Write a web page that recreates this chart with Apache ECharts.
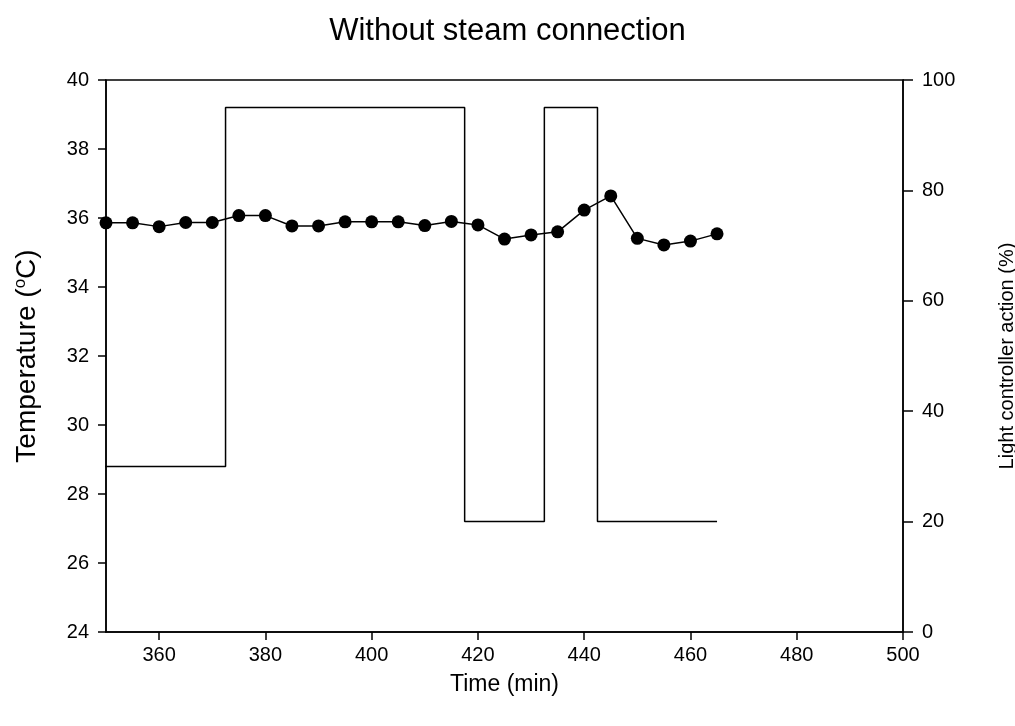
<!DOCTYPE html>
<html>
<head>
<meta charset="utf-8">
<script src="https://cdn.jsdelivr.net/npm/echarts@6/dist/echarts.min.js"></script>
<style>
  html, body { margin: 0; padding: 0; background: #fff; }
  #chart { width: 1015px; height: 726px; }
</style>
</head>
<body>
<div id="chart"></div>
<script>
// temperature readings, every 5 min
const tempTimes = [350, 355, 360, 365, 370, 375, 380, 385, 390, 395, 400, 405,
                   410, 415, 420, 425, 430, 435, 440, 445, 450, 455, 460, 465];
const tempValues = [35.86, 35.86, 35.75, 35.87, 35.87, 36.07, 36.07, 35.77, 35.77, 35.89, 35.89, 35.89,
                    35.78, 35.90, 35.80, 35.39, 35.51, 35.60, 36.23, 36.64, 35.41, 35.22, 35.33, 35.54];

// light controller: switching times and level held between them
const ctrlTimes = [347.5, 372.5, 417.5, 432.5, 442.5, 465];
const ctrlLevels = [30, 95, 20, 95, 20];

const xTicks = [360, 380, 400, 420, 440, 460, 480, 500];

// build step path from the switching times
let ctrlData = [];
for (let i = 0; i < ctrlLevels.length; i++) {
  ctrlData.push([ctrlTimes[i], ctrlLevels[i]]);
  ctrlData.push([ctrlTimes[i + 1], ctrlLevels[i]]);
}

const font = 'Liberation Sans, Arial, sans-serif';
const myChart = echarts.init(document.getElementById('chart'));

let option = {
  animation: false,
  title: {
    text: 'Without steam connection',
    left: 'center',
    top: 11,
    textStyle: { fontFamily: font, fontSize: 31, fontWeight: 'normal', color: '#000' }
  },
  grid: {
    left: 106, right: 112, top: 80, bottom: 94,
    outerBoundsMode: 'none',
    containLabel: false,
    show: true, borderColor: '#000', borderWidth: 1.5
  },
  xAxis: {
    type: 'value',
    min: 350, max: 500,
    name: 'Time (min)',
    nameLocation: 'middle',
    nameGap: 41,
    nameTextStyle: { fontFamily: font, fontSize: 23, color: '#000' },
    axisLine: { lineStyle: { color: '#000', width: 1.5 } },
    axisTick: { length: 8, lineStyle: { color: '#000', width: 1.5 }, customValues: xTicks },
    axisLabel: { fontFamily: font, fontSize: 20, color: '#000', margin: 13, customValues: xTicks },
    splitLine: { show: false }
  },
  yAxis: [
    {
      type: 'value',
      min: 24, max: 40, interval: 2,
      position: 'left',
      name: 'Temperature ({sup|o}C)',
      nameLocation: 'middle',
      nameRotate: 90,
      nameGap: 64,
      nameTextStyle: {
        fontFamily: font, fontSize: 28, color: '#000',
        rich: { sup: { fontFamily: font, fontSize: 17, color: '#000', verticalAlign: 'top', padding: [0, 0, 13, 0] } }
      },
      axisLine: { show: true, lineStyle: { color: '#000', width: 1.5 } },
      axisTick: { show: true, length: 8, lineStyle: { color: '#000', width: 1.5 } },
      axisLabel: { fontFamily: font, fontSize: 20, color: '#000', margin: 17 },
      splitLine: { show: false }
    },
    {
      type: 'value',
      min: 0, max: 100, interval: 20,
      position: 'right',
      name: 'Light controller action (%)',
      nameLocation: 'middle',
      nameRotate: 90,
      nameGap: 94,
      nameTextStyle: { fontFamily: font, fontSize: 20, color: '#000' },
      axisLine: { show: true, lineStyle: { color: '#000', width: 1.5 } },
      axisTick: { show: true, length: 10, lineStyle: { color: '#000', width: 1.5 } },
      axisLabel: { fontFamily: font, fontSize: 20, color: '#000', margin: 19 },
      splitLine: { show: false }
    }
  ],
  series: [
    {
      name: 'Light controller action',
      type: 'line',
      yAxisIndex: 1,
      data: ctrlData,
      showSymbol: false,
      clip: false,
      lineStyle: { color: '#000', width: 1.5 }
    },
    {
      name: 'Temperature',
      type: 'line',
      yAxisIndex: 0,
      data: tempTimes.map((t, i) => [t, tempValues[i]]),
      symbol: 'circle',
      symbolSize: 13,
      clip: false,
      itemStyle: { color: '#000' },
      lineStyle: { color: '#000', width: 1.5 }
    }
  ]
};
option && myChart.setOption(option);
</script>
</body>
</html>
